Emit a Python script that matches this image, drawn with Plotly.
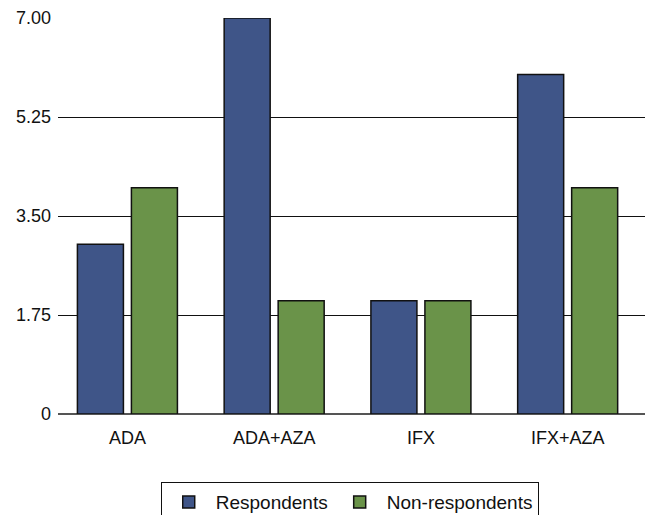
import plotly.graph_objects as go

categories = ["ADA", "ADA+AZA", "IFX", "IFX+AZA"]
respondents = [3, 7, 2, 6]
non_respondents = [4, 2, 2, 4]
tick_vals = [0, 1.75, 3.5, 5.25, 7]
tick_text = ["0", "1.75", "3.50", "5.25", "7.00"]

FONT = "Liberation Sans, Arial, sans-serif"

fig = go.Figure()
fig.add_trace(go.Bar(x=categories, y=respondents, name="Respondents",
                     marker=dict(color="#3F5588", line=dict(color="#111111", width=1.5))))
fig.add_trace(go.Bar(x=categories, y=non_respondents, name="Non-respondents",
                     marker=dict(color="#6A9349", line=dict(color="#111111", width=1.5))))

fig.update_layout(
    width=647, height=515,
    margin=dict(l=58, r=2, t=18, b=101, autoexpand=False),
    paper_bgcolor="white", plot_bgcolor="white",
    font=dict(family=FONT, size=18, color="#111111"),
    barmode="group", bargap=0.264, bargroupgap=0.148,
    showlegend=True,
    legend=dict(orientation="h", x=0.175, y=-0.172, xanchor="left", yanchor="top",
                bordercolor="#111111", borderwidth=1, font=dict(size=19),
                itemwidth=44, itemclick=False),
)
fig.update_xaxes(range=[-0.473, 3.527], showgrid=False, showline=False, ticks="",
                 ticklabelstandoff=11, tickfont=dict(size=18))
fig.update_yaxes(range=[0, 7.0001], tickvals=tick_vals, ticktext=tick_text,
                 showgrid=True, gridcolor="#111111", gridwidth=1,
                 zeroline=True, zerolinecolor="#555555", zerolinewidth=1.5,
                 showline=False, ticks="", ticklabelstandoff=6, tickfont=dict(size=18))

fig.write_html("out.html", config={"displayModeBar": False},
               post_script="document.body.style.margin='0px';")
